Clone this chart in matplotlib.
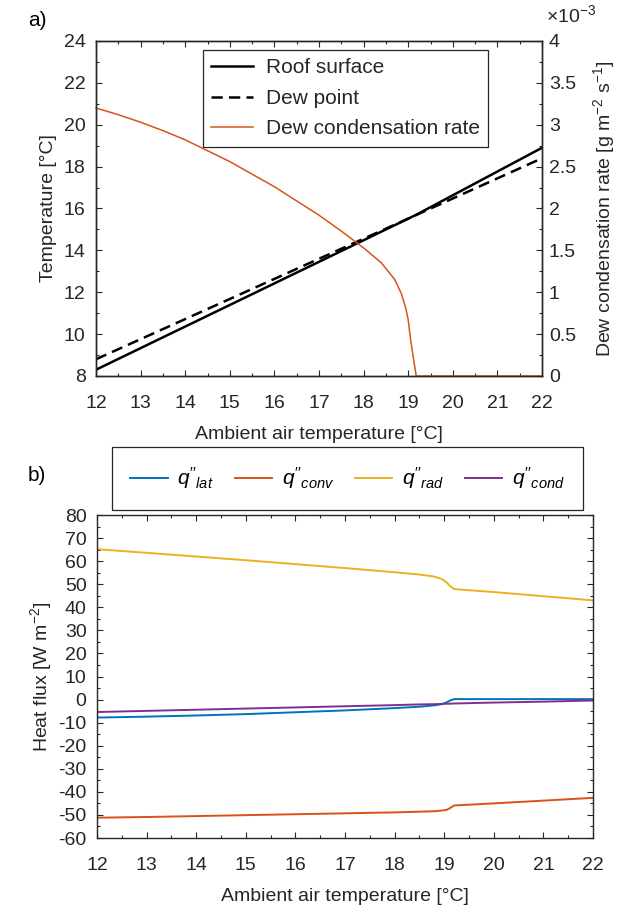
import numpy as np
import matplotlib.pyplot as plt
from matplotlib.ticker import MultipleLocator, FuncFormatter

plt.rcParams['font.family'] = ['Liberation Sans', 'DejaVu Sans']
plt.rcParams['mathtext.fontset'] = 'custom'
plt.rcParams['mathtext.rm'] = 'Liberation Sans'
plt.rcParams['mathtext.it'] = 'Liberation Sans:italic'
plt.rcParams['axes.unicode_minus'] = False

# ---- panel a data ----
t_line = [12.0, 19.17, 22.0]
roof_surface = [8.3, 15.69, 18.9]
dew_point = [8.8, 15.68, 18.4]

t_rate = [12.0, 12.5, 13.0, 13.5, 14.0, 14.5, 15.0, 15.5, 16.0, 16.5, 17.0,
          17.5, 18.0, 18.4, 18.7, 18.85, 18.95, 19.0, 19.05, 19.1, 19.15,
          19.18, 20.0, 21.0, 22.0]
# dew condensation rate, units of 1e-3 g m-2 s-1
dew_rate = [3.20, 3.12, 3.03, 2.93, 2.82, 2.69, 2.56, 2.41, 2.26, 2.09, 1.92,
            1.73, 1.53, 1.35, 1.15, 0.98, 0.80, 0.67, 0.45, 0.27, 0.10,
            0.0, 0.0, 0.0, 0.0]

# ---- panel b data ----
t_flux = [12.0, 13.0, 14.0, 15.0, 16.0, 17.0, 18.0, 18.5, 18.8, 18.95, 19.05,
          19.12, 19.2, 20.0, 21.0, 22.0]
q_lat = [-7.8, -7.4, -6.9, -6.3, -5.5, -4.7, -3.7, -3.1, -2.5, -2.0, -1.2,
         -0.4, 0.2, 0.2, 0.2, 0.2]
q_conv = [-51.2, -50.9, -50.5, -50.1, -49.7, -49.3, -48.9, -48.6, -48.4, -48.1,
          -47.8, -47.0, -45.9, -45.0, -43.8, -42.6]
q_rad = [65.2, 63.6, 62.0, 60.4, 58.7, 57.0, 55.2, 54.2, 53.3, 52.3, 50.8,
         49.2, 47.9, 46.6, 44.8, 43.0]
q_cond = [-5.4, -4.9, -4.4, -3.9, -3.4, -2.9, -2.4, -2.1, -2.0, -1.9, -1.8,
          -1.8, -1.7, -1.3, -0.9, -0.4]

C_AX = '#262626'
C_BLUE = '#0072BD'
C_ORANGE = '#D95319'
C_YELLOW = '#EDB120'
C_PURPLE = '#7E2F8E'
FS = 14

W, H = 627, 905
fig = plt.figure(figsize=(W / 100, H / 100), dpi=100)


def px_axes(left, top, right, bottom):
    return fig.add_axes([left / W, 1 - bottom / H, (right - left) / W, (bottom - top) / H])


def style(ax):
    for s in ax.spines.values():
        s.set_color(C_AX)
        s.set_linewidth(1.0)
    ax.tick_params(which='both', direction='in', colors=C_AX, labelsize=FS, width=0.8)
    ax.tick_params(which='major', length=4)
    ax.tick_params(which='minor', length=2.5)


# ---------------- a) ----------------
ax = px_axes(96, 41, 542, 376)
ax2 = ax.twinx()
l1, = ax.plot(t_line, roof_surface, color='black', lw=1.8, label='Roof surface')
l2, = ax.plot(t_line, dew_point, color='black', lw=1.8, ls=(0, (4.5, 2.5)), label='Dew point')
l3, = ax2.plot(t_rate, dew_rate, color=C_ORANGE, lw=1.1, label='Dew condensation rate',
               clip_on=False)
ax.set_xlim(12, 22)
ax.set_ylim(8, 24)
ax2.set_ylim(0, 4)
style(ax)
style(ax2)
ax.xaxis.set_major_locator(MultipleLocator(1))
ax.xaxis.set_minor_locator(MultipleLocator(0.5))
ax.yaxis.set_major_locator(MultipleLocator(2))
ax.yaxis.set_minor_locator(MultipleLocator(1))
ax2.yaxis.set_major_locator(MultipleLocator(0.5))
ax2.yaxis.set_minor_locator(MultipleLocator(0.25))
ax2.yaxis.set_major_formatter(FuncFormatter(lambda v, p: '%g' % v))
ax.tick_params(axis='x', which='both', top=True)
ax.tick_params(axis='y', which='both', right=False)
ax2.tick_params(axis='y', which='both', left=False, right=True)
ax.tick_params(axis='x', pad=14)
ax.tick_params(axis='y', pad=7.5)
ax2.tick_params(axis='y', pad=5)
ax.set_xlabel('Ambient air temperature [°C]', fontsize=FS, color=C_AX, labelpad=10)
ax.set_ylabel('Temperature [°C]', fontsize=FS, color=C_AX, labelpad=5)
ax2.set_ylabel('Dew condensation rate [g m$^{-2}$ s$^{-1}$]', fontsize=FS, color=C_AX,
               labelpad=11)
ax2.text(1.01, 1.045, r'$\times$10$^{-3}$', transform=ax2.transAxes, fontsize=FS,
         color=C_AX, ha='left', va='bottom')
leg = ax.legend(handles=[l1, l2, l3], loc='upper left', bbox_to_anchor=(0.24, 0.973),
                borderaxespad=0, fontsize=FS + 1, fancybox=False, framealpha=1,
                edgecolor=C_AX, handlelength=2.0, handletextpad=0.6, borderpad=0.4,
                labelspacing=0.55)
leg.get_frame().set_linewidth(0.9)
for t in leg.get_texts():
    t.set_color(C_AX)
fig.text(28 / W, 1 - 20 / H, 'a)', fontsize=FS + 1, va='center', ha='left')

# ---------------- b) ----------------
bx = px_axes(97, 515, 593, 838)
h1, = bx.plot(t_flux, q_lat, color=C_BLUE, lw=1.4, label=r"$q''_{lat}$")
h2, = bx.plot(t_flux, q_conv, color=C_ORANGE, lw=1.4, label=r"$q''_{conv}$")
h3, = bx.plot(t_flux, q_rad, color=C_YELLOW, lw=1.4, label=r"$q''_{rad}$")
h4, = bx.plot(t_flux, q_cond, color=C_PURPLE, lw=1.4, label=r"$q''_{cond}$")
bx.set_xlim(12, 22)
bx.set_ylim(-60, 80)
style(bx)
bx.xaxis.set_major_locator(MultipleLocator(1))
bx.xaxis.set_minor_locator(MultipleLocator(0.5))
bx.yaxis.set_major_locator(MultipleLocator(10))
bx.yaxis.set_minor_locator(MultipleLocator(5))
bx.tick_params(which='both', top=True, right=True)
bx.tick_params(axis='x', pad=14)
bx.tick_params(axis='y', pad=7.5)
bx.set_xlabel('Ambient air temperature [°C]', fontsize=FS, color=C_AX, labelpad=10)
bx.set_ylabel('Heat flux [W m$^{-2}$]', fontsize=FS, color=C_AX, labelpad=3)
legb = bx.legend(handles=[h1, h2, h3, h4], loc='lower center', bbox_to_anchor=(0.505, 1.015),
                 borderaxespad=0, ncol=4, fontsize=FS + 1, fancybox=False, framealpha=1,
                 edgecolor=C_AX, handlelength=1.8, handletextpad=0.45, borderpad=0.9,
                 columnspacing=1.0)
legb.get_frame().set_linewidth(0.9)
fig.text(28 / W, 1 - 475 / H, 'b)', fontsize=FS + 1, va='center', ha='left')

fig.savefig('out.png', dpi=100)
